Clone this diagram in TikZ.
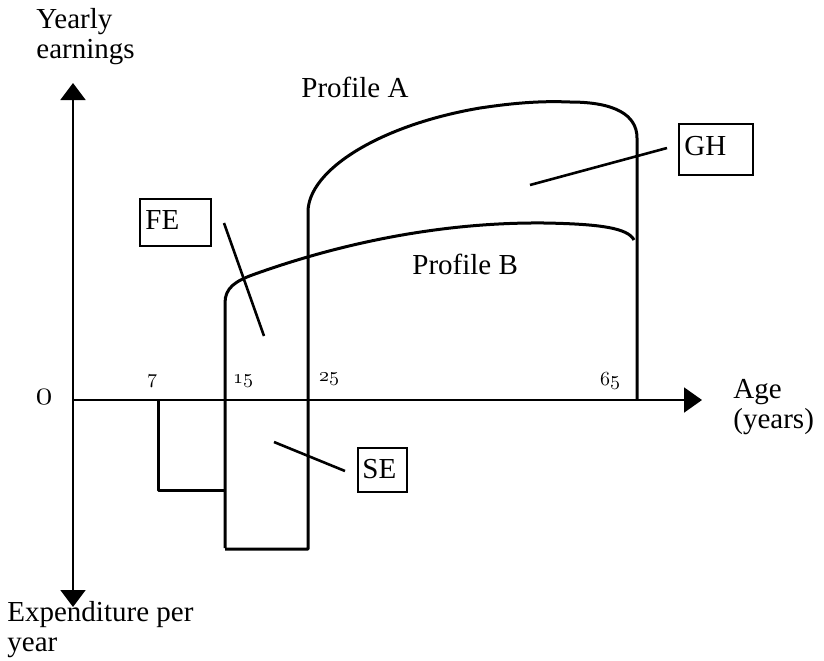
\documentclass[tikz,border=0pt]{standalone}
\usepackage{fontspec}
\setmainfont{Liberation Serif}
\usetikzlibrary{arrows.meta}
\newcommand\osnum[1]{{\usefont{OML}{cmm}{m}{it}#1}}
\tikzset{
  lbl/.style={anchor=west,inner sep=0pt,font=\fontsize{14.5}{16}\selectfont},
  two/.style={anchor=base west,inner sep=0pt,align=left,font=\fontsize{14.5}{15}\selectfont},
  tick/.style={inner sep=0pt,font=\fontsize{10}{11}\selectfont},
  axis/.style={line width=1pt,{Triangle[width=12.5pt,length=8.5pt]}-{Triangle[width=12.5pt,length=8.5pt]}},
  curve/.style={line width=1.5pt,line join=round},
  lead/.style={line width=1.3pt},
  boxed/.style={draw,line width=1.3pt}
}
\begin{document}
\begin{tikzpicture}[x=0.5pt,y=-0.5pt]
\useasboundingbox (0,0) rectangle (824,660);
% axes
\draw[axis] (73,607) -- (73,83);
\draw[line width=1pt,-{Triangle[width=12.5pt,length=9pt]}] (73,400) -- (702,400);
% labels
\node[two] (ye) at (36,58) {Yearly\\earnings};
\node[two] (ag) at (733,428) {Age\\(years)};
\node[two] (ex) at (7,651) {Expenditure per\\year};
\node[inner sep=0pt,font=\fontsize{17}{18}\selectfont] (zero) at (44,397) {\osnum{0}};
\node[tick] (t7) at (152,381) {\osnum{7}};
\node[tick] (t15) at (243,381) {\osnum{15}};
\node[tick] (t25) at (329,379) {\osnum{25}};
\node[tick] (t65) at (610,381) {\osnum{65}};
\node[lbl] (pa) at (301,87) {Profile A};
\node[lbl] (pb) at (412,264) {Profile B};
% expenditure and profile B
\draw[curve] (158,400) -- (158,490) -- (225,490);
\draw[curve] (225,548) -- (225,303) .. controls (225,288) and (235,281) .. (255,274)
  .. controls (350,240) and (450,222) .. (545,223)
  .. controls (600,224) and (628,228) .. (634,240);
% profile A
\draw[curve] (225,549) -- (308,549) -- (308,212)
  .. controls (308,170) and (380,125) .. (480,108)
  .. controls (520,102) and (545,101) .. (570,102)
  .. controls (615,102) and (637,115) .. (637,138) -- (637,400);
% boxes
\draw[boxed] (140,199) rectangle (211,246);
\node[lbl] (fe) at (145,220) {FE};
\draw[boxed] (679,124) rectangle (753,175);
\node[lbl] (gh) at (684,146) {GH};
\draw[boxed] (358,448) rectangle (407,492);
\node[lbl] (se) at (362,469) {SE};
% leaders
\draw[lead] (224,223) -- (264,336);
\draw[lead] (530,185) -- (667,148);
\draw[lead] (274,442) -- (345,471);
\end{tikzpicture}
\end{document}
